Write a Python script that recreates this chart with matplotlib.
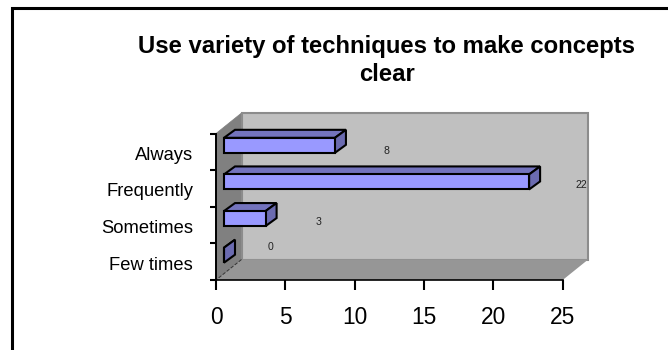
import matplotlib
matplotlib.use('Agg')
import matplotlib.pyplot as plt
from matplotlib.lines import Line2D
from matplotlib.patches import Polygon

# Values
categories = ['Few times', 'Sometimes', 'Frequently', 'Always']
values = [0, 3, 22, 8]
xticks = [0, 5, 10, 15, 20, 25]
title = 'Use variety of techniques to make concepts\nclear'

W, H = 668, 350
plt.rcParams['font.family'] = ['Liberation Sans', 'DejaVu Sans']
fig = plt.figure(figsize=(W / 100, H / 100), dpi=100)

# frame: only top and left edges fall inside the picture
fig.add_artist(Line2D([11.5 / W, 11.5 / W, 1], [0, 1 - 8 / H, 1 - 8 / H], transform=fig.transFigure,
                      color='black', lw=2.2, solid_joinstyle='miter'))

# axes cover the front plane of the 3d box
left, right, top, bottom = 216, 562.7, 133.5, 280
ax = fig.add_axes([left / W, 1 - bottom / H, (right - left) / W, (bottom - top) / H])
ax.set_xlim(0, 25)
ax.set_ylim(0, 4)
ax.patch.set_visible(False)
for s in ['top', 'right']:
    ax.spines[s].set_visible(False)
ax.spines['left'].set_linewidth(1.4)
ax.spines['bottom'].set_linewidth(1.2)

ux = (right - left) / 25
uy = (bottom - top) / 4


def shift(x, y, dx, dy):
    # pixel offset into the depth of the box -> data units
    return (x + dx / ux, y + dy / uy)


def poly(pts, **kw):
    ax.add_patch(Polygon(pts, closed=True, clip_on=False, **kw))


# box walls
DX, DY = 25.5, 20.5
poly([(0, 0), (0, 4), shift(0, 4, DX, DY), shift(0, 0, DX, DY)], fc='#808080', ec='#808080', lw=0.5, zorder=1)
poly([shift(0, 0, DX, DY), shift(0, 4, DX, DY), shift(25, 4, DX, DY), shift(25, 0, DX, DY)],
     fc='#c0c0c0', ec='#8c8c8c', lw=1.5, zorder=1)
poly([(0, 0), (25, 0), shift(25, 0, DX, DY), shift(0, 0, DX, DY)], fc='#969696', ec='none', zorder=1)
ax.plot(*zip(shift(0, 0, DX, DY), (0, 0)), color='#333333', lw=0.7, ls='--', clip_on=False, zorder=2)

# bars
ox = 8
bx, by = 11, 8
face_h = 15
# pixel nudges of the value labels, the 3d renderer put them out of line
label_nudge = [(55, 15), (61, 3), (60, 3.5), (59, 1)]
for i, v in enumerate(values):
    x0, y0 = shift(0, i + 0.5 - face_h / 2 / uy, ox, 6.5)
    x1 = x0 + v
    y1 = y0 + face_h / uy
    # top and side faces first, then the front
    poly([(x0, y1), (x1, y1), shift(x1, y1, bx, by), shift(x0, y1, bx, by)],
         fc='#7373bd', ec='black', lw=1.5, zorder=3)
    poly([(x1, y0), (x1, y1), shift(x1, y1, bx, by), shift(x1, y0, bx, by)],
         fc='#6b6bb0', ec='black', lw=1.5, zorder=3)
    poly([(x0, y0), (x1, y0), (x1, y1), (x0, y1)], fc='#9999ff', ec='black', lw=1.5, zorder=4)
    lx, ly = shift(v, i + 0.5, *label_nudge[i])
    ax.text(lx, ly, str(v), fontsize=7.6, ha='center', va='center', color='#222222', zorder=5)

ax.set_xticks(xticks)
ax.set_xticklabels([str(t) for t in xticks], fontsize=16.4)
ax.set_yticks(range(5))
ax.set_yticklabels([])
ax.tick_params(axis='x', length=7, width=1.5, pad=12)
ax.tick_params(axis='y', length=4.5, width=1.5)

for i, c in enumerate(categories):
    ax.text(-23 / ux, i + 0.5 - 3.5 / uy, c, fontsize=13.2, ha='right', va='center')

fig.text(387 / W, 1 - 60.5 / H, title, fontsize=17.2, fontweight='bold', ha='center', va='center', linespacing=1.32)

fig.savefig('out.png', dpi=100)
